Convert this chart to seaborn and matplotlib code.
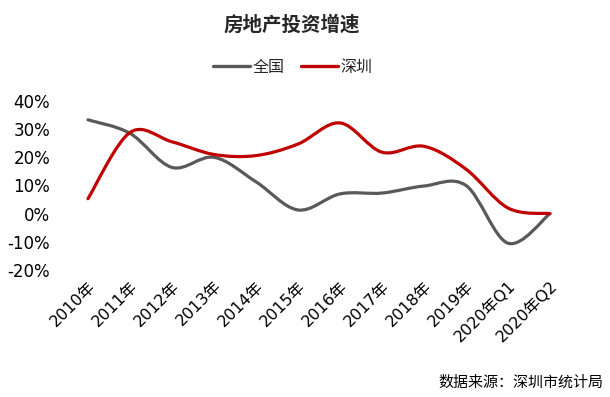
import numpy as np
import matplotlib
matplotlib.use("Agg")
import matplotlib.pyplot as plt
from matplotlib.path import Path
from matplotlib.patches import PathPatch
from matplotlib.lines import Line2D
import seaborn as sns

categories = ["2010年", "2011年", "2012年", "2013年", "2014年", "2015年",
              "2016年", "2017年", "2018年", "2019年", "2020年Q1", "2020年Q2"]
national = [33.3, 28.5, 16.4, 20.0, 11.3, 1.3, 7.0, 7.3, 9.8, 10.0, -10.5, 0.0]
shenzhen = [5.3, 28.8, 25.5, 21.0, 20.6, 24.7, 32.2, 21.8, 23.9, 15.8, 2.0, 0.0]
yticks = [-20, -10, 0, 10, 20, 30, 40]

series_names = ["全国", "深圳"]
series_colors = ["#595959", "#C00000"]

sns.set_theme(style="white")
plt.rcParams["font.family"] = ["DejaVu Sans", "Noto Sans CJK SC"]


def smooth_path(xs, ys):
    # smoothed line like the office chart: cubic Bezier through every point
    pts = np.column_stack([xs, ys]).astype(float)
    padded = np.vstack([pts[0], pts, pts[-1]])
    verts = [pts[0]]
    codes = [Path.MOVETO]
    for i in range(len(pts) - 1):
        p0, p1, p2, p3 = padded[i], padded[i + 1], padded[i + 2], padded[i + 3]
        verts += [p1 + (p2 - p0) / 6, p2 - (p3 - p1) / 6, p2]
        codes += [Path.CURVE4] * 3
    return Path(verts, codes)


fig = plt.figure(figsize=(6.1, 3.97), dpi=100)
ax = fig.add_axes([0.1098, 0.320, 0.8262, 0.4257])

xpos = np.arange(len(categories))
for values, color in zip([national, shenzhen], series_colors):
    patch = PathPatch(smooth_path(xpos, values), facecolor="none", edgecolor=color,
                      linewidth=2.3, capstyle="round", joinstyle="round")
    ax.add_patch(patch)

ax.set_xlim(-0.5, len(categories) - 0.5)
ax.set_ylim(-20, 40)
ax.set_yticks(yticks)
ax.set_yticklabels([f"{v}%" for v in yticks], fontsize=12, color="black")
ax.set_xticks(xpos)
ax.set_xticklabels(categories, rotation=45, ha="right", va="top",
                   rotation_mode="anchor", fontsize=11.5, color="black")
ax.tick_params(axis="y", length=0, pad=12)
ax.tick_params(axis="x", length=0, pad=6)
ax.grid(False)
sns.despine(ax=ax, left=True, bottom=True)

fig.text(0.479, 0.937, "房地产投资增速", ha="center", va="center",
         fontsize=14, fontweight="bold", family=["Noto Sans CJK SC", "DejaVu Sans"])

handles = [Line2D([0], [0], color=c, linewidth=2.4) for c in series_colors]
fig.legend(handles, series_names, loc="center", bbox_to_anchor=(0.48, 0.831),
           ncol=2, frameon=False, handlelength=2.3, handletextpad=0.2,
           columnspacing=1.0, prop={"family": "Noto Sans CJK SC", "size": 11.5})

fig.text(0.989, 0.035, "数据来源：深圳市统计局", ha="right", va="center",
         fontsize=10.8, color="black", family=["Noto Sans CJK SC", "DejaVu Sans"])

fig.savefig("out.png", dpi=100)
